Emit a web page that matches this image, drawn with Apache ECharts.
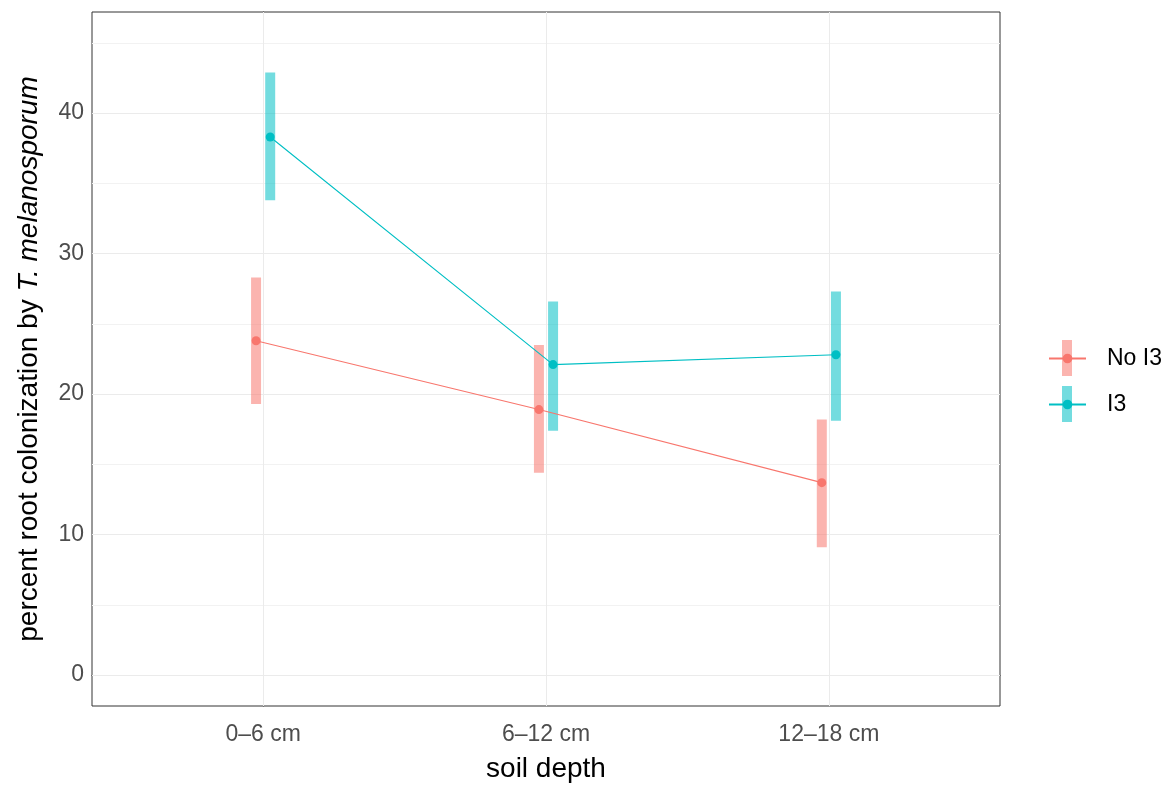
<!DOCTYPE html>
<html><head><meta charset="utf-8">
<script src="https://cdn.jsdelivr.net/npm/echarts@6/dist/echarts.min.js"></script>
<style>html,body{margin:0;padding:0;background:#fff}#c{width:1168px;height:785px}</style>
</head><body><div id="c"></div>
<script>
const categories = ['0–6 cm', '6–12 cm', '12–18 cm'];
const groupNames = ['No I3', 'I3'];
const noI3Mean = [23.8, 18.9, 13.7];
const noI3Low  = [19.3, 14.4, 9.1];
const noI3High = [28.3, 23.5, 18.2];
const i3Mean = [38.3, 22.1, 22.8];
const i3Low  = [33.8, 17.4, 18.1];
const i3High = [42.9, 26.6, 27.3];
const yTicks = [0, 10, 20, 30, 40];
const yMinor = [5, 15, 25, 35, 45];

const RED = '#F8766D', TEAL = '#00BFC4';
const RED_A = 'rgba(248,118,109,0.55)', TEAL_A = 'rgba(0,191,196,0.55)';
const DODGE = 0.025;
const catIdx = categories.map((c, i) => i);

function pts(mean, off) { return mean.map((v, i) => [i + off, v]); }
function bars(lo, hi, off) { return lo.map((v, i) => [i + off, v, hi[i]]); }

function barSeries(name, data, fill) {
  return {
    type: 'custom', name: name + ' ci', data: data, z: 3, silent: true,
    encode: { x: 0, y: [1, 2] },
    renderItem: function (params, api) {
      const x = api.value(0), lo = api.value(1), hi = api.value(2);
      const p1 = api.coord([x, hi]), p2 = api.coord([x, lo]);
      return { type: 'rect', shape: { x: p1[0] - 5, y: p1[1], width: 10, height: p2[1] - p1[1] },
               style: { fill: fill } };
    }
  };
}

const chart = echarts.init(document.getElementById('c'), null, { renderer: 'canvas' });
chart.setOption({
  animation: false,
  backgroundColor: '#fff',
  textStyle: { fontFamily: 'Liberation Sans, Arial, sans-serif' },
  grid: { left: 92, right: 168, top: 12, bottom: 79, show: true, borderColor: '#333333', borderWidth: 1,
          backgroundColor: 'transparent', containLabel: false, outerBoundsMode: 'none' },
  xAxis: {
    type: 'value', min: -0.605, max: 2.605,
    name: 'soil depth', nameLocation: 'middle', nameGap: 49,
    nameTextStyle: { fontSize: 28, color: '#000' },
    axisLine: { show: true, lineStyle: { color: '#333', width: 1 } },
    axisTick: { show: true, length: 4, inside: false, customValues: catIdx, lineStyle: { color: '#333', width: 1 } },
    axisLabel: { customValues: catIdx, fontSize: 23, color: '#4D4D4D', margin: 17,
                 formatter: v => categories[Math.round(v)] },
    splitLine: { show: false }
  },
  yAxis: {
    type: 'value', min: -2.2, max: 47.2,
    name: '{n|percent root colonization by }{i|T. melanosporum}',
    nameLocation: 'middle', nameGap: 49, nameRotate: 90,
    nameTextStyle: { fontSize: 28, color: '#000',
      rich: { n: { fontSize: 28, color: '#000' }, i: { fontSize: 28, color: '#000', fontStyle: 'italic' } } },
    axisLine: { show: true, lineStyle: { color: '#333', width: 1 } },
    axisTick: { show: true, length: 4, customValues: yTicks, lineStyle: { color: '#333', width: 1 } },
    axisLabel: { customValues: yTicks, fontSize: 23, color: '#4D4D4D', margin: 8 },
    splitLine: { show: false }
  },
  legend: {
    orient: 'vertical', left: 1048, top: 347, padding: 0,
    data: groupNames, itemWidth: 37, itemHeight: 12, itemGap: 23, z: 6,
    textStyle: { fontSize: 23, color: '#000', padding: [0, 0, 0, 16] }
  },
  graphic: [
    { type: 'rect', z: 1, shape: { x: 1062, y: 340, width: 10, height: 36 }, style: { fill: RED_A } },
    { type: 'rect', z: 1, shape: { x: 1062, y: 386, width: 10, height: 36 }, style: { fill: TEAL_A } }
  ],
  series: [
    {
      type: 'line', name: 'grid', data: [], silent: true, z: 1,
      markLine: {
        silent: true, symbol: 'none', label: { show: false }, z: 1,
        data: yMinor.map(v => ({ yAxis: v, lineStyle: { color: '#F2F2F2', width: 1, type: 'solid' } }))
          .concat(yTicks.map(v => ({ yAxis: v, lineStyle: { color: '#EBEBEB', width: 1, type: 'solid' } })))
          .concat(catIdx.map(v => ({ xAxis: v, lineStyle: { color: '#EBEBEB', width: 1, type: 'solid' } })))
      }
    },
    barSeries(groupNames[0], bars(noI3Low, noI3High, -DODGE), RED_A),
    barSeries(groupNames[1], bars(i3Low, i3High, DODGE), TEAL_A),
    {
      type: 'line', name: groupNames[0], data: pts(noI3Mean, -DODGE), z: 5,
      color: RED, symbol: 'circle', symbolSize: 9,
      lineStyle: { color: RED, width: 1.1 }, itemStyle: { color: RED }
    },
    {
      type: 'line', name: groupNames[1], data: pts(i3Mean, DODGE), z: 5,
      color: TEAL, symbol: 'circle', symbolSize: 9,
      lineStyle: { color: TEAL, width: 1.1 }, itemStyle: { color: TEAL }
    }
  ]
});
</script></body></html>
